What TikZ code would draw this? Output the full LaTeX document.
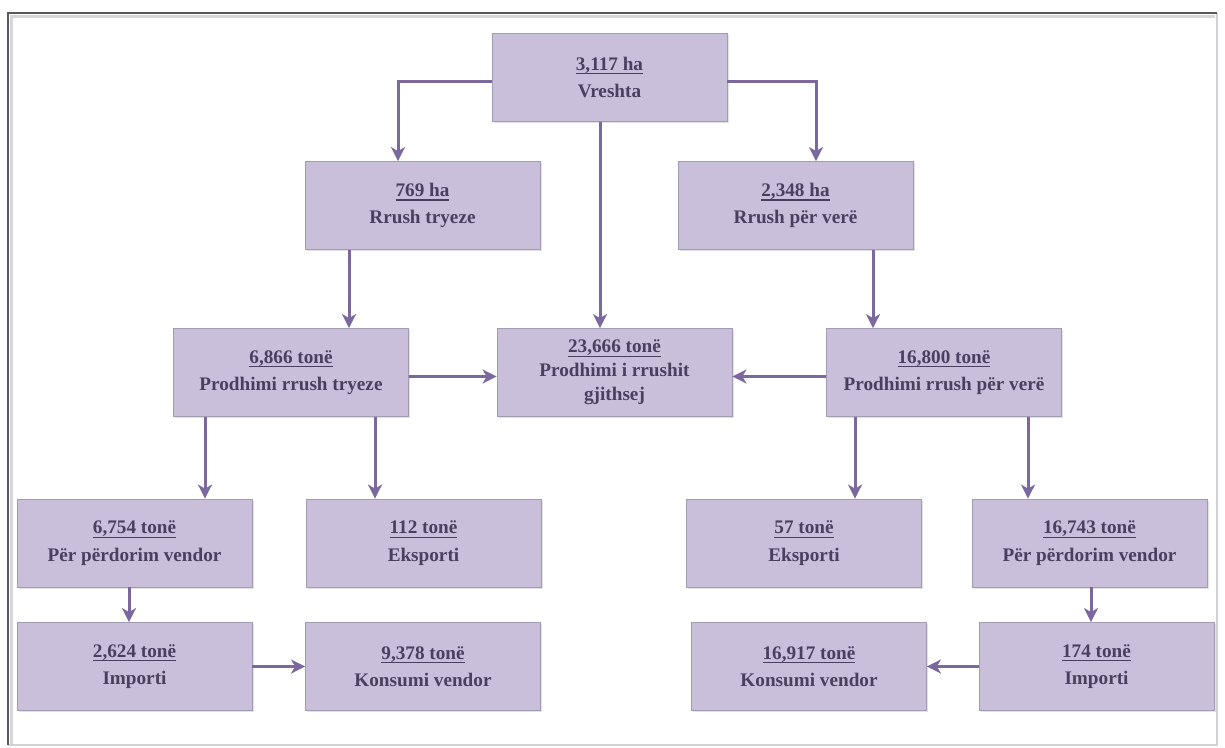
\documentclass[tikz,border=0pt]{standalone}
\usepackage{fontspec}
\setmainfont{Liberation Serif}
\usetikzlibrary{arrows.meta,calc,shadows}
\definecolor{boxfill}{HTML}{C9BFDB}
\definecolor{boxedge}{HTML}{A39BB3}
\definecolor{txt}{HTML}{4A3F5E}
\definecolor{arrc}{HTML}{7A689E}
\definecolor{framedark}{HTML}{5A5660}
\definecolor{framelight}{HTML}{D2D0D6}
\newcommand\numul[1]{\setbox0\hbox{#1}\leavevmode\rlap{\usebox0}\rule[-4.2pt]{\wd0}{1.2pt}}
\tikzset{
  flowbox/.style={rectangle, fill=boxfill, draw=boxedge, line width=0.8pt,
    minimum width=235pt, minimum height=88pt, inner sep=0pt,
    drop shadow={shadow xshift=1.6pt, shadow yshift=-1.6pt, fill=black!22},
    align=center, text=txt, font=\fontsize{19.2}{27.5}\selectfont\bfseries},
  arr/.style={draw=arrc, line width=3pt, -{Stealth[length=14pt,width=14pt,inset=4pt]}},
}
\begin{document}
\begin{tikzpicture}[x=1pt,y=-1pt]
\useasboundingbox (0,0) rectangle (1225,747);
\fill[white] (0,0) rectangle (1225,747);
% frame
\draw[framelight, line width=2.5pt] (1217,13) -- (1217,745) -- (8,745);
\draw[framedark, line width=1.8pt] (8,745) -- (8,13) -- (1217,13);
\draw[framedark!25, line width=3pt] (11,744) -- (11,16) -- (1215,16);

% boxes
\node[flowbox] (V)  at (609.5,77.5) {\numul{3,117 ha}\\Vreshta};
\node[flowbox] (T2) at (422.5,205.5) {\numul{769 ha}\\Rrush tryeze};
\node[flowbox] (W2) at (795.5,205.5) {\numul{2,348 ha}\\Rrush për verë};
\node[flowbox] (T3) at (291,372.5) {\numul{6,866 tonë}\\Prodhimi rrush tryeze};
\node[flowbox, font=\fontsize{19.2}{24}\selectfont\bfseries] (C3) at (614.5,372.5) {\numul{23,666 tonë}\\Prodhimi i rrushit\\gjithsej};
\node[flowbox] (W3) at (944,372.5) {\numul{16,800 tonë}\\Prodhimi rrush për verë};
\node[flowbox] (L4) at (134.5,543) {\numul{6,754 tonë}\\Për përdorim vendor};
\node[flowbox] (E4) at (423.5,543) {\numul{112 tonë}\\Eksporti};
\node[flowbox] (F4) at (804,543) {\numul{57 tonë}\\Eksporti};
\node[flowbox] (R4) at (1089.5,543) {\numul{16,743 tonë}\\Për përdorim vendor};
\node[flowbox] (L5) at (134.5,666.5) {\numul{2,624 tonë}\\Importi};
\node[flowbox] (K5) at (423,666.5) {\numul{9,378 tonë}\\Konsumi vendor};
\node[flowbox] (K6) at (809,666.5) {\numul{16,917 tonë}\\Konsumi vendor};
\node[flowbox] (I5) at (1096.5,666.5) {\numul{174 tonë}\\Importi};

% connectors
\draw[arr] ([yshift=-4pt]V.west) -| ([xshift=-24.5pt]T2.north);
\draw[arr] ([yshift=-4pt]V.east) -| ([xshift=20.5pt]W2.north);
\draw[arr] ([xshift=-9.5pt]V.south) -- ([xshift=-9.5pt]V.south |- C3.north);
\draw[arr] ([xshift=-73.5pt]T2.south) -- ([xshift=-73.5pt]T2.south |- T3.north);
\draw[arr] ([xshift=77.5pt]W2.south) -- ([xshift=77.5pt]W2.south |- W3.north);
\draw[arr] ([yshift=-4pt]T3.east) -- ([yshift=-4pt]C3.west);
\draw[arr] ([yshift=-4pt]W3.west) -- ([yshift=-4pt]C3.east);
\draw[arr] ([xshift=-86pt]T3.south) -- ([xshift=-86pt]T3.south |- L4.north);
\draw[arr] ([xshift=84pt]T3.south) -- ([xshift=84pt]T3.south |- E4.north);
\draw[arr] ([xshift=-89pt]W3.south) -- ([xshift=-89pt]W3.south |- F4.north);
\draw[arr] ([xshift=84pt]W3.south) -- ([xshift=84pt]W3.south |- R4.north);
\draw[arr] ([xshift=-5.5pt]L4.south) -- ([xshift=-5.5pt]L4.south |- L5.north);
\draw[arr] ([xshift=1.5pt]R4.south) -- ([xshift=1.5pt]R4.south |- I5.north);
\draw[arr] (L5.east) -- (K5.west);
\draw[arr] (I5.west) -- (K6.east);
\end{tikzpicture}
\end{document}
